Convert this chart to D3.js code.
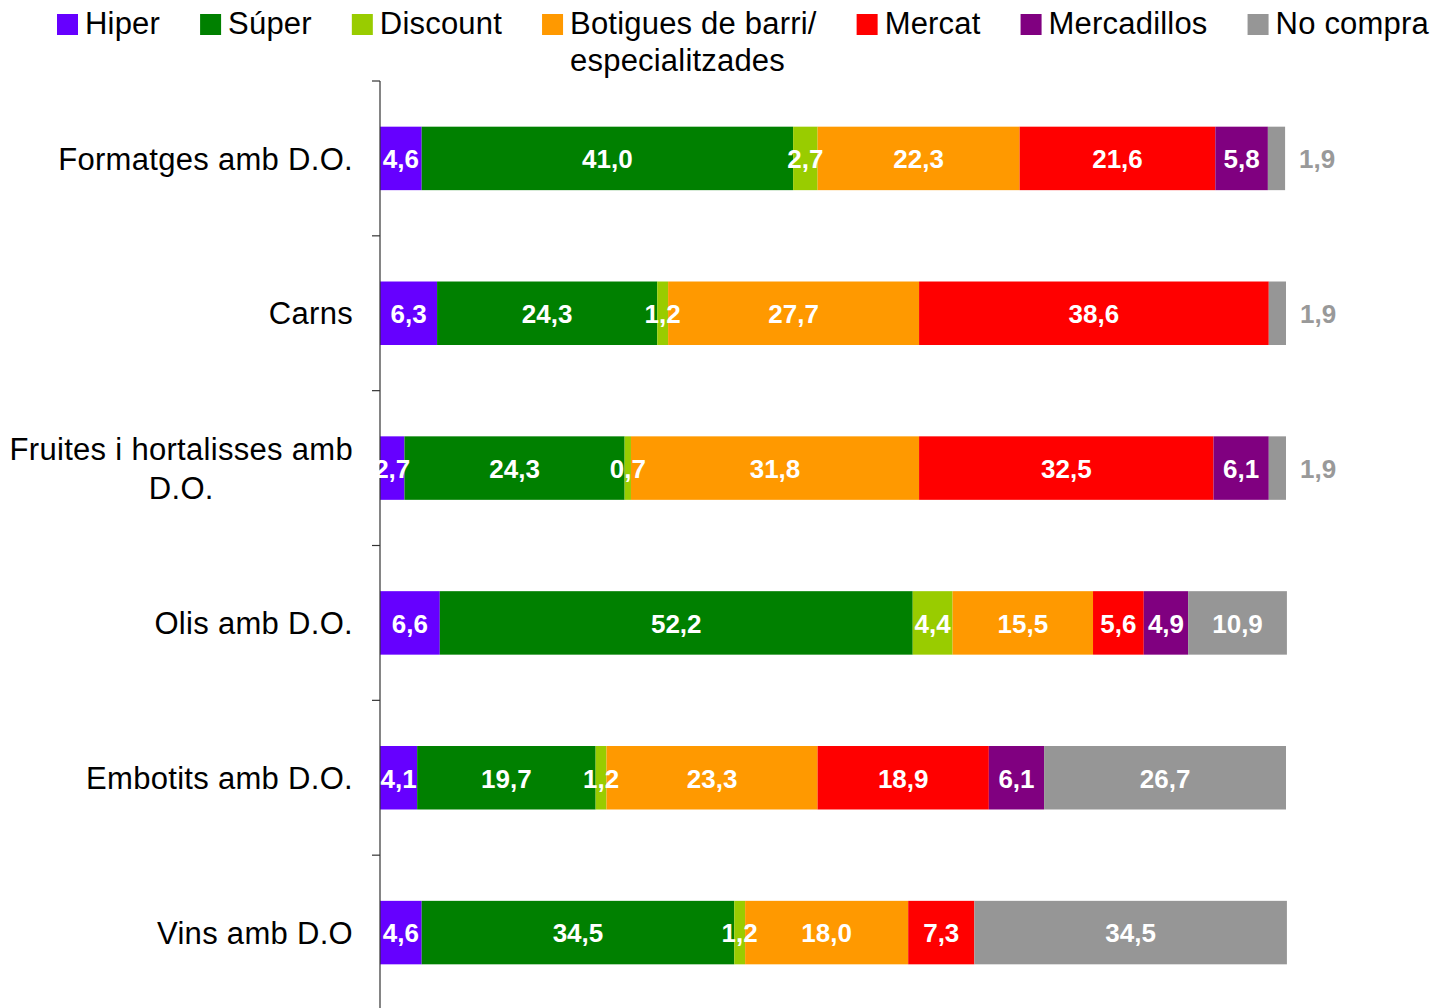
<!DOCTYPE html>
<html>
<head>
<meta charset="utf-8">
<script src="https://cdn.jsdelivr.net/npm/d3@7"></script>
<style>
  html, body { margin: 0; padding: 0; background: #fff; }
  svg { display: block; font-family: "Liberation Sans", Arial, sans-serif; }
</style>
</head>
<body>
<svg id="chart" width="1433" height="1008"></svg>
<script>
// ---- data ----
const categories = ["Formatges amb D.O.", "Carns", "Fruites i hortalisses amb D.O.", "Olis amb D.O.", "Embotits amb D.O.", "Vins amb D.O"];
const seriesNames = ["Hiper", "Súper", "Discount", "Botigues de barri/ especialitzades", "Mercat", "Mercadillos", "No compra"];
const seriesColors = ["#6600FF", "#008000", "#99CC00", "#FF9900", "#FF0000", "#800080", "#969696"];
const hiper       = [4.6, 6.3, 2.7, 6.6, 4.1, 4.6];
const superm      = [41.0, 24.3, 24.3, 52.2, 19.7, 34.5];
const discount    = [2.7, 1.2, 0.7, 4.4, 1.2, 1.2];
const botigues    = [22.3, 27.7, 31.8, 15.5, 23.3, 18.0];
const mercat      = [21.6, 38.6, 32.5, 5.6, 18.9, 7.3];
const mercadillos = [5.8, 0, 6.1, 4.9, 6.1, 0];
const noCompra    = [1.9, 1.9, 1.9, 10.9, 26.7, 34.5];
const seriesValues = [hiper, superm, discount, botigues, mercat, mercadillos, noCompra];

// ---- layout ----
const svg = d3.select("#chart");
const plotLeft = 380, plotRight = 1286, plotTop = 81, plotBottom = 1010;
const x = d3.scaleLinear().domain([0, 100]).range([plotLeft, plotRight]);
const y = d3.scaleBand().domain(categories).range([plotTop, plotBottom]).paddingInner(0.59).paddingOuter(0.295);

// build stacked rows
const rows = categories.map((c, i) => {
  let acc = 0;
  return seriesNames.map((s, j) => {
    const v = seriesValues[j][i];
    const d = { cat: c, series: s, idx: j, v: v, x0: acc, x1: acc + v };
    acc += v;
    return d;
  });
});

const g = svg.append("g");
rows.forEach(row => {
  const rg = g.append("g");
  rg.selectAll("rect").data(row.filter(d => d.v > 0)).join("rect")
    .attr("x", d => x(d.x0))
    .attr("width", d => x(d.x1) - x(d.x0))
    .attr("y", d => y(d.cat))
    .attr("height", y.bandwidth())
    .attr("fill", d => seriesColors[d.idx]);
});

// axis (category axis, left)
const yAxisTicks = d3.range(categories.length + 1).map(i => plotTop + i * y.step());
svg.append("line").attr("x1", plotLeft).attr("x2", plotLeft).attr("y1", plotTop).attr("y2", plotBottom)
  .attr("stroke", "#333").attr("stroke-width", 1.2);
svg.selectAll(".tick").data(yAxisTicks).join("line")
  .attr("x1", plotLeft - 8).attr("x2", plotLeft).attr("y1", d => d).attr("y2", d => d)
  .attr("stroke", "#333").attr("stroke-width", 1.2);

// data labels
rows.forEach(row => {
  row.filter(d => d.v > 0).forEach(d => {
    const outside = d.idx === seriesNames.length - 1 && d.v < 3;
    const t = svg.append("text")
      .attr("y", y(d.cat) + y.bandwidth() / 2)
      .attr("dy", "0.38em")
      .attr("font-size", 26).attr("font-weight", "bold")
      .text(d3.format(".1f")(d.v).replace(".", ","));
    if (outside) {
      t.attr("x", x(d.x1) + 14).attr("text-anchor", "start").attr("fill", "#999999");
    } else {
      t.attr("x", (x(d.x0) + x(d.x1)) / 2).attr("text-anchor", "middle").attr("fill", "#fff");
    }
  });
});

// category labels with wrapping
const catFont = 31, catLH = 39, labelRight = 353, wrapW = 352, catLS = 0.3;
categories.forEach(c => {
  const words = c.split(" ");
  const tmp = svg.append("text").attr("font-size", catFont).attr("letter-spacing", catLS);
  const lines = [];
  let line = [];
  words.forEach(w => {
    const test = line.concat([w]).join(" ");
    tmp.text(test);
    if (tmp.node().getComputedTextLength() > wrapW && line.length) {
      lines.push(line.join(" "));
      line = [w];
    } else line.push(w);
  });
  lines.push(line.join(" "));
  let maxW = 0;
  lines.forEach(l => { tmp.text(l); maxW = Math.max(maxW, tmp.node().getComputedTextLength()); });
  tmp.remove();
  const cy = y(c) + y.bandwidth() / 2;
  const startY = cy - (lines.length - 1) * catLH / 2;
  const t = svg.append("text").attr("font-size", catFont).attr("letter-spacing", catLS).attr("fill", "#000")
    .attr("text-anchor", "middle");
  lines.forEach((l, k) => {
    t.append("tspan").attr("x", labelRight - maxW / 2).attr("y", startY + k * catLH).attr("dy", "0.36em").text(l);
  });
});

// legend
const legFont = 31, legLH = 37, legWrap = 285, legLS = 0.2;
let lx = 57;
seriesNames.forEach((s, j) => {
  const lg = svg.append("g");
  lg.append("rect").attr("x", lx).attr("y", 14).attr("width", 21).attr("height", 21).attr("fill", seriesColors[j]);
  const t = lg.append("text").attr("font-size", legFont).attr("letter-spacing", legLS).attr("fill", "#000");
  const words = s.split(" ");
  const lines = [];
  let line = [];
  const tmp = svg.append("text").attr("font-size", legFont).attr("letter-spacing", legLS);
  words.forEach(w => {
    tmp.text(line.concat([w]).join(" "));
    if (tmp.node().getComputedTextLength() > legWrap && line.length) { lines.push(line.join(" ")); line = [w]; }
    else line.push(w);
  });
  lines.push(line.join(" "));
  let maxW = 0;
  lines.forEach(l => { tmp.text(l); maxW = Math.max(maxW, tmp.node().getComputedTextLength()); });
  tmp.remove();
  lines.forEach((l, k) => {
    t.append("tspan").attr("x", lx + 28).attr("y", 34 + k * legLH).text(l);
  });
  lx += 28 + maxW + 40;
});
</script>
</body>
</html>
